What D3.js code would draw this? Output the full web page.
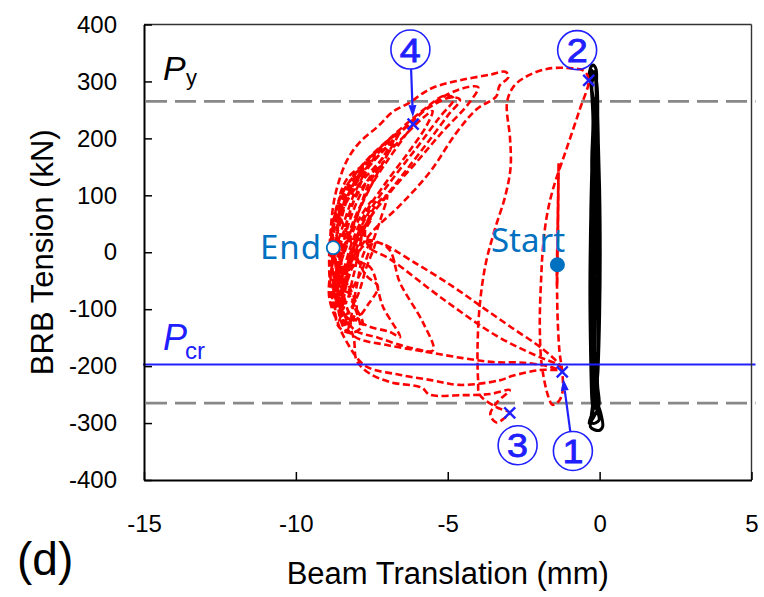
<!DOCTYPE html>
<html>
<head>
<meta charset="utf-8">
<script src="https://cdn.jsdelivr.net/npm/d3@7"></script>
<style>
  body { margin: 0; background: #fff; }
  text { font-family: "Liberation Sans", Arial, sans-serif; }
</style>
</head>
<body>
<script>
const width = 764;
const height = 597;

// axis ticks
const xTicks = [-15, -10, -5, 0, 5];
const yTicks = [-400, -300, -200, -100, 0, 100, 200, 300, 400];

// reference levels (kN)
const pyLevel = 265;
const pcrLevel = -197;

// start / end of the BRB test
const startPt = [-1.39, -22];
const endPt = [-8.77, 8];

// numbered events: marker position and label circle position
const eventDigits = ["1", "2", "3", "4"];
const eventX = [-1.23, -0.36, -2.96, -6.14];
const eventY = [-210, 302, -282, 225];
const labelX = [-0.88, -0.74, -2.70, -6.23];
const labelY = [-349, 355, -339, 356];
const eventArrow = [true, false, false, true];

// red dashed curve, in pieces (mm, kN)
const redStart = [
  [-1.40, -22], [-1.38, 45], [-1.36, 110], [-1.35, 158], [-1.37, 95], [-1.39, 25], [-1.41, -40],
  [-1.40, -62], [-1.38, 5], [-1.36, 85], [-1.35, 150], [-1.37, 70], [-1.39, -10], [-1.41, -58],
  [-1.39, -15], [-1.37, 60], [-1.36, 125], [-1.38, 50], [-1.40, -30], [-1.40, -70]
];
const redFirstCycle = [
  [-1.38, -120], [-1.32, -175], [-1.23, -210], [-1.22, -245], [-1.35, -262], [-1.55, -268],
  [-1.68, -255], [-1.90, -200], [-1.97, -130], [-1.92, -40], [-1.87, 5], [-1.75, 60], [-1.54, 110],
  [-1.10, 180], [-0.66, 250], [-0.36, 302], [-0.50, 318], [-0.90, 323], [-1.74, 322], [-2.50, 306],
  [-2.86, 289], [-3.05, 262], [-2.95, 200], [-2.93, 150], [-3.10, 100], [-3.45, 40], [-3.75, -20],
  [-3.95, -95], [-4.02, -170], [-4.00, -225], [-3.95, -250], [-3.40, -272], [-2.96, -282],
  [-3.15, -292], [-3.40, -299]
];
const redEnvelope = [
  [-3.60, -285], [-3.35, -262], [-2.96, -242], [-3.60, -249], [-4.50, -251], [-5.60, -250],
  [-5.85, -238], [-6.90, -228], [-7.60, -212], [-8.00, -190], [-8.10, -150], [-8.50, -95],
  [-8.85, -10], [-8.80, 70], [-8.62, 118], [-8.30, 163], [-7.90, 193], [-7.30, 221], [-6.80, 247],
  [-6.25, 263], [-5.80, 280], [-5.40, 291], [-4.60, 302], [-3.60, 312], [-3.10, 317], [-3.00, 308],
  [-3.30, 292], [-3.40, 274], [-4.05, 251], [-4.70, 211], [-5.60, 140], [-6.60, 81], [-7.50, 35],
  [-8.20, -20], [-8.50, -80], [-8.30, -135]
];
const redExcursions = [
  [-8.00, -60], [-7.70, 5], [-7.34, 17], [-6.10, -18], [-4.84, -60], [-3.90, -95], [-2.96, -130],
  [-1.87, -170], [-1.35, -196], [-1.28, -206], [-1.70, -200], [-2.50, -194], [-3.50, -193],
  [-4.50, -186], [-5.70, -175], [-7.00, -163], [-8.10, -147], [-8.60, -100], [-8.80, -20],
  [-8.65, 60], [-8.10, 115], [-7.20, 175], [-6.20, 228], [-5.30, 268], [-4.50, 288], [-4.00, 290],
  [-4.30, 262], [-5.20, 210], [-6.00, 160], [-6.90, 105], [-7.70, 45], [-7.60, 10], [-6.90, -12],
  [-5.16, -82], [-3.39, -147], [-2.07, -182], [-1.40, -197], [-1.25, -205], [-2.00, -207],
  [-2.86, -217], [-3.30, -225], [-4.60, -233], [-5.50, -225], [-6.60, -215], [-7.70, -200],
  [-8.30, -160], [-8.70, -110], [-8.90, -30], [-8.80, 50], [-8.40, 110], [-7.70, 160], [-6.80, 205],
  [-5.80, 250], [-5.10, 275], [-4.80, 270], [-5.30, 235], [-6.00, 185], [-6.80, 130], [-7.60, 70],
  [-8.20, 0], [-8.50, -70]
];
const redMidLoops = [
  [-8.70, 0], [-8.50, 70], [-7.90, 130], [-7.00, 185], [-6.20, 230], [-5.50, 258], [-4.90, 272],
  [-4.60, 268], [-5.00, 240], [-5.70, 190], [-6.50, 135], [-7.30, 80], [-7.90, 30], [-8.30, -30],
  [-8.60, -100], [-8.30, -140], [-7.90, -135], [-8.10, -90], [-8.50, -20], [-8.60, 50], [-8.20, 100],
  [-7.40, 150], [-6.60, 195], [-5.90, 232], [-5.50, 248], [-5.70, 222], [-6.30, 175], [-7.00, 125],
  [-7.70, 70], [-8.20, 10], [-8.50, -60], [-8.00, -20], [-7.56, -26], [-7.13, -96], [-6.57, -149],
  [-6.90, -140], [-7.60, -130], [-8.20, -110], [-8.50, -40], [-8.30, 20], [-7.00, 9], [-6.57, -54],
  [-5.80, -125], [-5.48, -172], [-6.20, -168], [-7.30, -150], [-8.10, -135], [-8.60, -80]
];
const redDense = [
  [-8.60, -60], [-8.30, -20], [-7.90, 40], [-7.50, 90], [-7.90, 60], [-8.40, 0], [-8.70, -60],
  [-8.40, -110], [-8.00, -80], [-7.70, -30], [-7.40, 20], [-7.80, 10], [-8.30, -50], [-8.60, -120],
  [-8.90, -80], [-8.80, -20], [-8.40, 40], [-8.00, 100], [-7.40, 140], [-7.10, 160], [-7.60, 120],
  [-8.00, 60], [-8.50, 0], [-8.70, -40], [-8.30, -70], [-7.90, -40], [-7.60, 0], [-7.20, 60],
  [-7.00, 100], [-7.40, 80], [-7.90, 20], [-8.30, -40], [-8.50, -100], [-8.10, -120], [-7.60, -90],
  [-7.30, -60], [-7.70, -40], [-8.20, 20], [-8.60, 80], [-8.30, 130], [-7.80, 150], [-8.20, 110],
  [-8.60, 40], [-8.90, -20], [-8.70, -90], [-8.20, -130], [-8.50, -60], [-8.80, 10], [-8.60, 90],
  [-8.00, 140], [-7.30, 180], [-6.70, 205], [-7.10, 170], [-7.70, 120], [-8.20, 60], [-8.55, -10],
  [-8.75, -70], [-8.40, -90], [-8.10, -40], [-7.80, 30], [-7.50, 60], [-7.90, 35], [-8.40, -30]
];
const redCluster = [
  [-8.80, -10], [-8.75, 55], [-8.40, 105], [-7.70, 155], [-7.00, 195], [-6.50, 215], [-6.14, 225],
  [-6.40, 205], [-7.00, 160], [-7.60, 110], [-8.10, 55], [-8.50, -10], [-8.70, -80], [-8.60, -130],
  [-8.20, -142], [-7.80, -128], [-8.20, -80], [-8.60, -15], [-8.60, 55], [-8.20, 110], [-7.50, 160],
  [-6.90, 198], [-6.60, 210], [-6.90, 180], [-7.40, 130], [-7.90, 75], [-8.30, 20], [-8.60, -45],
  [-8.55, -110], [-8.30, -125], [-8.00, -100], [-8.35, -45], [-8.65, 20], [-8.50, 80], [-8.00, 130],
  [-7.40, 170], [-7.70, 140], [-8.10, 90], [-8.45, 30], [-8.70, -30], [-8.75, -95], [-8.45, -100],
  [-8.55, -45], [-8.80, 15], [-8.60, 75], [-8.20, 115], [-7.80, 135], [-8.10, 100], [-8.40, 55],
  [-8.70, 0], [-8.85, -50], [-8.60, -75], [-8.70, -20], [-8.77, 8]
];

// black solid curve (mm, kN)
const blackPath = [
  [-0.05, -20], [-0.22, 70], [-0.26, 160], [-0.22, 230], [-0.27, 285], [-0.33, 318], [-0.22, 329],
  [-0.12, 322], [-0.10, 292], [-0.05, 210], [0.00, 110], [0.02, 0], [0.00, -110], [-0.05, -205],
  [-0.10, -256], [0.04, -283], [0.10, -306], [-0.02, -313], [-0.30, -307], [-0.22, -285],
  [-0.26, -255], [-0.30, -170], [-0.32, -70], [-0.30, 40], [-0.26, 140], [-0.20, 240], [-0.25, 300],
  [-0.15, 318], [-0.08, 265], [-0.03, 150], [-0.03, 30], [-0.02, -110], [-0.07, -230], [-0.02, -268],
  [-0.20, -290], [-0.35, -300], [-0.14, -262], [-0.20, -160], [-0.27, -50], [-0.25, 60], [-0.20, 170],
  [-0.18, 255], [-0.30, 305], [-0.28, 320], [-0.12, 305], [-0.06, 230], [-0.08, 120], [-0.05, 0],
  [-0.04, -120], [-0.10, -220], [-0.15, -265], [-0.02, -295], [-0.25, -300], [-0.20, -250],
  [-0.24, -150], [-0.30, -40], [-0.29, 70], [-0.24, 180], [-0.20, 250], [-0.26, 295], [-0.16, 310],
  [-0.10, 260], [-0.04, 170], [0.00, 50], [-0.01, -80], [-0.06, -190], [-0.12, -255], [-0.05, -275],
  [-0.18, -265], [-0.25, -200], [-0.28, -100], [-0.22, 0], [-0.18, 100], [-0.14, 200], [-0.17, 270],
  [-0.10, 240], [-0.12, 130], [-0.16, 20], [-0.13, -90], [-0.17, -200], [-0.11, -250], [-0.19, -140],
  [-0.22, -30], [-0.10, 60], [-0.07, -40]
];

const blue = "#2020ff";
const labelBlue = "#0070c0";

let svg = d3.select("body")
    .append("svg")
    .attr("width", width)
    .attr("height", height)
    .style("background", "#fff");

const x = d3.scaleLinear().domain([-15, 5]).range([144, 751.5]);
const y = d3.scaleLinear().domain([-400, 400]).range([480, 24.5]);

// Py dashed levels
svg.selectAll("line.py")
    .data([pyLevel, -pyLevel])
    .enter()
    .append("line")
    .attr("x1", x(-15) + 2)
    .attr("x2", x(5) + 4)
    .attr("y1", d => y(d))
    .attr("y2", d => y(d))
    .attr("stroke", "#888")
    .attr("stroke-width", 2.6)
    .attr("stroke-dasharray", "21,8");

const line = d3.line()
    .x(d => x(d[0]))
    .y(d => y(d[1]))
    .curve(d3.curveCatmullRom.alpha(0.5));

svg.append("path")
    .attr("d", line(blackPath))
    .attr("fill", "none")
    .attr("stroke", "#000")
    .attr("stroke-width", 3);

const redPath = [].concat(redStart, redFirstCycle, redEnvelope, redExcursions, redMidLoops, redDense, redCluster);
svg.append("path")
    .attr("d", line(redPath))
    .attr("fill", "none")
    .attr("stroke", "#ff0000")
    .attr("stroke-width", 2.6)
    .attr("stroke-dasharray", "7,3.5");

// Pcr line
svg.append("line")
    .attr("x1", x(-15) - 1)
    .attr("x2", x(5) + 4)
    .attr("y1", y(pcrLevel))
    .attr("y2", y(pcrLevel))
    .attr("stroke", blue)
    .attr("stroke-width", 2);

// axes
const xAxis = d3.axisBottom(x).tickValues(xTicks).tickSizeInner(-8).tickSizeOuter(0)
    .tickPadding(35).tickFormat(d => String(d));
const yAxis = d3.axisLeft(y).tickValues(yTicks).tickSizeInner(-8).tickSizeOuter(0)
    .tickPadding(27).tickFormat(d => String(d));

svg.append("line")
    .attr("x1", x(-15)).attr("x2", x(5))
    .attr("y1", y(400)).attr("y2", y(400))
    .attr("stroke", "#333").attr("stroke-width", 1.6);
svg.append("line")
    .attr("x1", x(5)).attr("x2", x(5))
    .attr("y1", y(400)).attr("y2", y(-400))
    .attr("stroke", "#333").attr("stroke-width", 1.4);

let gx = svg.append("g").attr("transform", "translate(0," + y(-400) + ")").call(xAxis);
let gy = svg.append("g").attr("transform", "translate(" + x(-15) + ",0)").call(yAxis);
[gx, gy].forEach(g => {
    g.select(".domain").attr("stroke", "#000").attr("stroke-width", 2);
    g.selectAll(".tick line").attr("stroke", "#000").attr("stroke-width", 1.5);
    g.selectAll(".tick text")
        .attr("fill", "#000")
        .style("font-size", "24px")
        .style("font-family", "'Liberation Sans', Arial, sans-serif");
});

// axis titles
svg.append("text")
    .attr("x", (x(-15) + x(5)) / 2)
    .attr("y", 584)
    .attr("text-anchor", "middle")
    .style("font-size", "31px")
    .text("Beam Translation (mm)");
svg.append("text")
    .attr("transform", "translate(53," + (y(400) + y(-400)) / 2 + ") rotate(-90)")
    .attr("text-anchor", "middle")
    .style("font-size", "31px")
    .text("BRB Tension (kN)");
svg.append("text")
    .attr("x", 17)
    .attr("y", 575)
    .style("font-size", "46px")
    .text("(d)");

// P labels
let py = svg.append("text").attr("x", 163).attr("y", 80).attr("fill", "#000");
py.append("tspan").style("font-size", "34px").style("font-style", "italic").text("P");
py.append("tspan").attr("x", 186).attr("y", 85).style("font-size", "22px").text("y");

let pcr = svg.append("text").attr("x", 163).attr("y", 350).attr("fill", blue);
pcr.append("tspan").style("font-size", "36px").style("font-style", "italic").text("P");
pcr.append("tspan").attr("x", 185).attr("y", 359).style("font-size", "24px").text("cr");

// start / end markers
svg.append("circle")
    .attr("cx", x(startPt[0])).attr("cy", y(startPt[1]))
    .attr("r", 7.5).attr("fill", labelBlue);
svg.append("text")
    .attr("x", 491).attr("y", 252)
    .attr("fill", labelBlue)
    .style("font-family", "'Noto Sans', 'Open Sans', sans-serif")
    .style("font-size", "33px")
    .text("Start");
svg.append("circle")
    .attr("cx", x(endPt[0])).attr("cy", y(endPt[1]))
    .attr("r", 6.5).attr("fill", "#fff")
    .attr("stroke", labelBlue).attr("stroke-width", 1.8);
svg.append("text")
    .attr("x", 321).attr("y", 259)
    .attr("text-anchor", "end")
    .attr("fill", labelBlue)
    .attr("textLength", 61)
    .style("font-family", "'Noto Sans', 'Open Sans', sans-serif")
    .style("font-size", "33px")
    .text("End");

// event markers, arrows and circled numbers
eventDigits.forEach((lab, i) => {
    const mx = x(eventX[i]), my = y(eventY[i]);
    const cx = x(labelX[i]), cy = y(labelY[i]);
    const s = 5.5;
    svg.append("path")
        .attr("d", `M${mx - s},${my - s}L${mx + s},${my + s}M${mx - s},${my + s}L${mx + s},${my - s}`)
        .attr("stroke", blue)
        .attr("stroke-width", 2.4);

    svg.append("circle")
        .attr("cx", cx).attr("cy", cy).attr("r", 19.5)
        .attr("fill", "none").attr("stroke", blue).attr("stroke-width", 1.6);
    svg.append("text")
        .attr("x", cx).attr("y", cy + 12)
        .attr("text-anchor", "middle")
        .attr("fill", blue)
        .attr("stroke", blue)
        .attr("stroke-width", 0.8)
        .attr("textLength", 21)
        .attr("lengthAdjust", "spacingAndGlyphs")
        .style("font-size", "34px")
        .text(lab);

    if (eventArrow[i]) {
        const dx = mx - cx, dy = my - cy;
        const len = Math.sqrt(dx * dx + dy * dy);
        const ux = dx / len, uy = dy / len;
        const x0 = cx + ux * 19.5, y0 = cy + uy * 19.5;
        const tx = mx - ux * 7, ty = my - uy * 7;
        const hx = tx - ux * 12, hy = ty - uy * 12;
        svg.append("line")
            .attr("x1", x0).attr("y1", y0).attr("x2", hx).attr("y2", hy)
            .attr("stroke", blue).attr("stroke-width", 2.2);
        svg.append("path")
            .attr("d", `M${tx},${ty}L${hx - uy * 4},${hy + ux * 4}L${hx + uy * 4},${hy - ux * 4}Z`)
            .attr("fill", blue);
    }
});
</script>
</body>
</html>
